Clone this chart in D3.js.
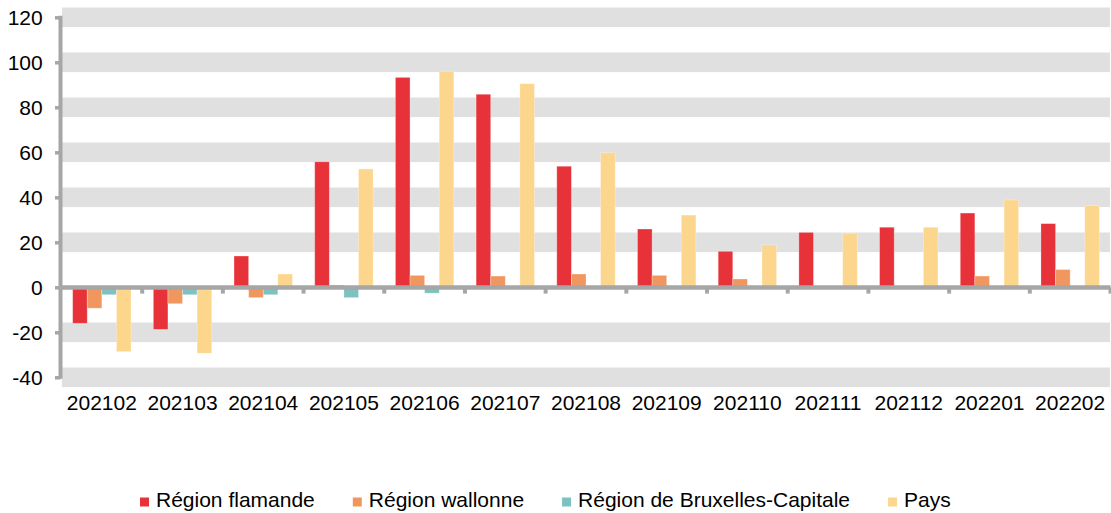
<!DOCTYPE html>
<html><head><meta charset="utf-8">
<script src="https://cdn.jsdelivr.net/npm/d3@7"></script>
<style>
body{margin:0;background:#fff}
svg{display:block}
text{font-family:"Liberation Sans",Arial,sans-serif;fill:#000}
</style>
</head><body>
<svg id="c" width="1111" height="513"></svg>
<script>
const categories = ["202102","202103","202104","202105","202106","202107","202108","202109","202110","202111","202112","202201","202202"];
const regionFlamande = [-16,-18.7,13.9,55.8,93.3,85.8,53.8,25.9,16,24.4,26.7,33,28.3];
const regionWallonne = [-9.3,-7.3,-4.6,1,5.3,5,5.9,5.3,3.7,0,0,5,7.9];
const regionBruxelles = [-3.3,-3.3,-3.3,-4.6,-2.6,0,0,0,0,0,0,0,0];
const pays = [-28.6,-29.3,5.9,52.6,96,90.5,59.8,32.1,18.8,24,26.7,38.8,36.3];
const seriesNames = ["Région flamande","Région wallonne","Région de Bruxelles-Capitale","Pays"];
const seriesColors = ["#E8323A","#F0975F","#7EC1C1","#FDD68E"];
const yTicks = [-40,-20,0,20,40,60,80,100,120];

const series = [regionFlamande, regionWallonne, regionBruxelles, pays];
const svg = d3.select("#c");
const FS = "21px";

const y = d3.scaleLinear().domain([-40,120]).range([377.3,17.3]);
const x0 = d3.scaleBand().domain(categories).range([61.5,1110.5]).paddingInner(0.2763).paddingOuter(0.13815);
const x1 = d3.scaleBand().domain(d3.range(series.length)).range([0, x0.bandwidth()]);
const step = x0.step();

// gray bands
svg.append("g").selectAll("rect").data(yTicks.filter(t => t !== 0)).join("rect")
  .attr("x", 62).attr("width", 1110 - 62)
  .attr("y", d => y(d) - 9.8).attr("height", 19.6)
  .attr("fill", "#E0E0E0");

// bars
const g = svg.append("g");
categories.forEach((c, i) => {
  series.forEach((s, k) => {
    const v = s[i];
    if (v === 0) return;
    g.append("rect")
      .attr("x", x0(c) + x1(k))
      .attr("width", x1.bandwidth())
      .attr("y", y(Math.max(0, v)))
      .attr("height", Math.abs(y(v) - y(0)))
      .attr("fill", seriesColors[k])
      .attr("stroke", "rgba(255,255,255,0.35)")
      .attr("stroke-width", 0.8);
  });
});

// x axis
const xa = svg.append("g");
xa.append("line").attr("x1", 60).attr("x2", 1110.5).attr("y1", y(0)+0.2).attr("y2", y(0)+0.2)
  .attr("stroke", "#A6A6A6").attr("stroke-width", 4.5);
xa.selectAll("line.t").data(d3.range(1, categories.length + 1)).join("line").attr("class","t")
  .attr("x1", d => 61.5 + d*step).attr("x2", d => 61.5 + d*step)
  .attr("y1", y(0)).attr("y2", y(0) + 6.3)
  .attr("stroke", "#A6A6A6").attr("stroke-width", 4);
xa.selectAll("text").data(categories).join("text")
  .attr("x", d => x0(d) + x0.bandwidth()/2)
  .attr("y", 410)
  .attr("text-anchor", "middle")
  .style("font-size", FS)
  .text(d => d);

// y axis
const ya = svg.append("g").attr("transform", "translate(60.5,0)")
  .call(d3.axisLeft(y).tickValues(yTicks).tickFormat(d => String(d)).tickSize(5.5).tickSizeOuter(0).tickPadding(12.3));
ya.select(".domain").attr("stroke", "#A6A6A6").attr("stroke-width", 4)
  .attr("d", `M0,${y(120)-1.5}V${y(-40)+1.5}`);
ya.selectAll(".tick line").attr("stroke", "#A6A6A6").attr("stroke-width", 3.5);
ya.selectAll(".tick text").style("font-size", FS).attr("dy", "0.36em").attr("fill", "#000")
  .style("font-family", '"Liberation Sans",Arial,sans-serif');

// legend
const lg = svg.append("g");
let lx = 140;
seriesNames.forEach((name, k) => {
  lg.append("rect").attr("x", lx).attr("y", 497.5).attr("width", 9).attr("height", 9).attr("fill", seriesColors[k]);
  const t = lg.append("text").attr("x", lx + 16).attr("y", 507.3).style("font-size", FS).text(name);
  lx += 16 + t.node().getComputedTextLength() + 38;
});
</script>
</body></html>
